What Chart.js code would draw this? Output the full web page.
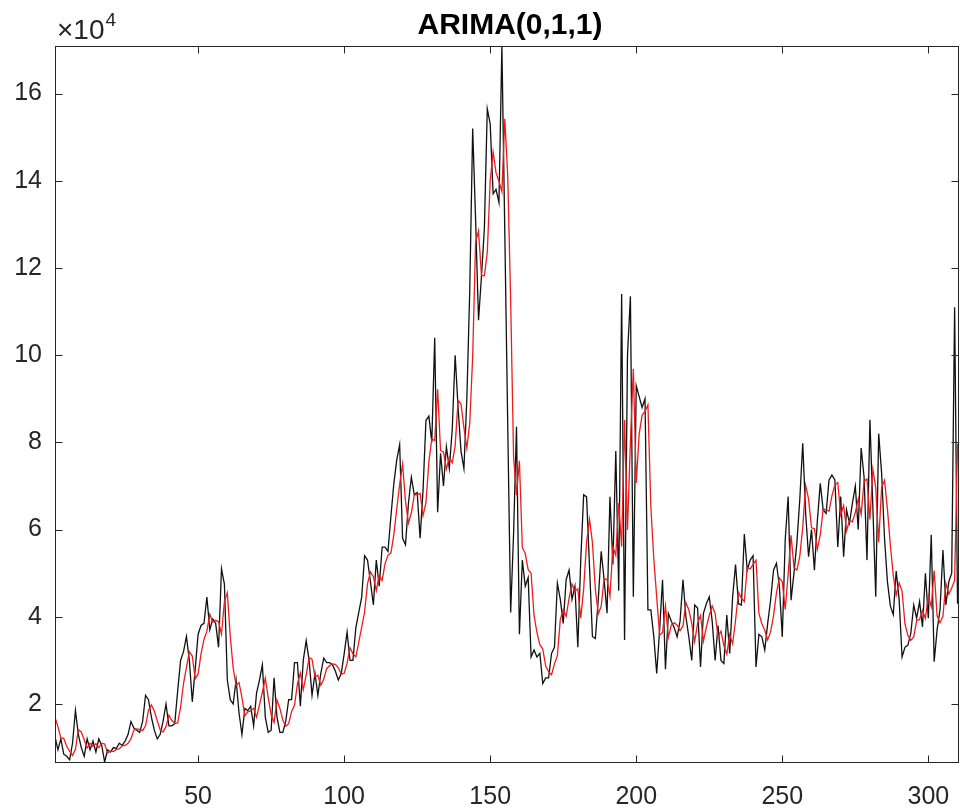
<!DOCTYPE html>
<html>
<head>
<meta charset="utf-8">
<script src="https://cdn.jsdelivr.net/npm/chart.js@4.4.1/dist/chart.umd.min.js"></script>
<style>
html,body{margin:0;padding:0;background:#ffffff;}
#wrap{width:960px;height:812px;position:relative;}
</style>
</head>
<body>
<div id="wrap"><canvas id="c" width="960" height="812"></canvas></div>
<script>
// ---- data (values in units of 10^4) ----
const titleText = 'ARIMA(0,1,1)';
const exponentBase = '\u00D710';
const exponentPower = '4';
const xTicks = [50, 100, 150, 200, 250, 300];
const xTickLabels = ['50', '100', '150', '200', '250', '300'];
const yTicks = [2, 4, 6, 8, 10, 12, 14, 16];
const yTickLabels = ['2', '4', '6', '8', '10', '12', '14', '16'];
const xRange = [1, 310.5];
const yRange = [0.67, 17.09];

const observed = [
  1.25,0.95,1.2,0.85,0.8,0.72,1.1,1.85,1.3,1.0,
  0.8,1.2,0.95,1.15,0.9,1.2,1.05,0.67,0.95,0.9,
  1.0,0.98,1.1,1.05,1.15,1.3,1.6,1.45,1.4,1.35,
  1.6,2.2,2.1,1.7,1.4,1.2,1.3,1.6,2.0,1.5,
  1.5,1.55,2.3,3.0,3.2,3.55,3.0,2.05,2.8,3.6,
  3.8,3.85,4.45,3.7,3.95,3.85,3.3,5.1,4.75,2.55,
  2.1,2.0,2.55,1.8,1.3,1.9,1.85,1.95,1.5,2.25,
  2.55,2.9,1.7,1.35,1.4,2.6,1.7,1.35,1.35,1.6,
  2.1,2.1,2.95,2.95,1.95,3.0,3.45,3.0,2.2,2.7,
  2.2,2.7,3.05,2.95,2.95,2.9,2.75,2.55,2.7,3.15,
  3.65,3.0,3.0,3.75,4.1,4.45,5.4,5.3,4.8,4.27,
  5.3,4.7,5.6,5.6,5.5,6.3,7.05,7.6,7.95,5.8,
  5.65,6.6,7.2,6.8,6.85,5.8,6.9,8.5,8.6,8.0,
  10.4,6.4,7.75,7.0,7.9,7.4,8.3,10.0,8.8,7.8,
  7.4,9.0,11.5,15.2,13.1,10.8,11.8,12.9,15.65,15.3,
  13.7,13.8,13.5,17.09,12.8,8.4,4.1,5.9,8.36,3.6,5.3,
  4.7,4.9,3.08,3.24,3.08,3.16,2.47,2.6,2.6,3.16,
  3.3,4.77,4.4,3.85,4.85,5.07,4.4,4.7,3.3,5.3,
  6.8,6.75,5.15,3.55,3.5,4.4,5.5,4.85,4.08,6.75,
  5.2,7.8,4.6,11.4,3.47,10.0,11.35,4.46,9.3,9.05,
  8.8,9.0,4.16,4.16,3.55,2.7,3.7,4.85,2.8,4.08,
  3.9,3.75,3.54,3.9,4.85,4.0,3.54,3.0,4.27,
  4.2,2.85,4.08,4.3,4.46,3.9,3.0,3.8,3.0,2.93,
  4.04,3.16,4.46,5.2,4.3,4.27,5.9,5.07,5.3,5.4,
  2.85,3.6,3.54,3.24,3.85,4.38,5.07,5.23,4.7,3.54,
  5.76,6.76,4.38,5.0,5.7,6.7,7.98,6.37,5.38,6.0,
  5.07,6.2,7.06,6.45,6.37,7.14,7.25,7.14,5.6,6.76,
  5.38,6.45,6.15,6.6,7.0,6.0,7.87,7.2,5.3,8.52,
  6.53,4.46,8.2,7.3,5.8,4.8,4.25,4.05,5.05,4.4,
  3.08,3.3,3.35,3.62,4.27,3.97,4.35,3.77,5.0,3.97,
  5.88,2.97,3.7,4.16,5.53,4.27,4.8,5.0,11.1,4.3
];

const fitted = [
  1.70,1.48,1.22,1.21,1.03,0.92,0.82,0.96,1.41,1.36,
  1.18,0.99,1.10,1.03,1.09,1.00,1.10,1.08,0.88,0.92,
  0.91,0.96,0.97,1.04,1.05,1.10,1.20,1.40,1.43,1.42,
  1.39,1.50,1.85,1.98,1.84,1.62,1.41,1.36,1.48,1.74,
  1.62,1.56,1.56,1.93,2.47,2.84,3.20,3.10,2.58,2.69,
  3.15,3.48,3.67,4.06,3.88,3.92,3.89,3.60,4.35,4.55,
  3.55,2.83,2.42,2.49,2.15,1.73,1.82,1.84,1.90,1.70,
  1.98,2.27,2.59,2.15,1.75,1.58,2.09,1.90,1.63,1.49,
  1.55,1.83,1.97,2.46,2.71,2.33,2.67,3.06,3.03,2.62,
  2.66,2.43,2.57,2.81,2.88,2.92,2.91,2.83,2.69,2.70,
  2.93,3.29,3.15,3.08,3.42,3.76,4.11,4.76,5.03,4.92,
  4.60,4.95,4.83,5.22,5.41,5.46,5.88,6.47,7.04,7.50,
  6.65,6.15,6.38,6.79,6.80,6.83,6.32,6.61,7.56,8.08,
  8.04,9.22,7.81,7.78,7.39,7.65,7.53,7.92,8.96,8.88,
  8.34,7.87,8.44,9.97,12.59,12.85,11.83,11.82,12.36,14.01,
  14.66,14.18,13.99,13.75,15.42,14.11,11.26,7.68,6.79,7.58,
  5.59,5.45,5.08,5.00,4.04,3.64,3.36,3.26,2.87,2.74,2.67,
  2.92,3.11,3.94,4.17,4.01,4.43,4.75,4.58,4.64,3.97,
  4.64,5.72,6.24,5.70,4.63,4.07,4.24,4.87,4.86,4.47,
  5.61,5.41,6.61,5.61,8.51,5.99,8.00,9.68,7.07,8.19,
  8.62,8.71,8.86,6.51,5.34,4.45,3.58,3.64,4.25,3.53,
  3.81,3.86,3.81,3.68,3.79,4.32,4.16,3.85,3.43,
  3.85,4.03,3.44,3.76,4.03,4.25,4.08,3.54,3.67,3.34,
  3.14,3.59,3.38,3.92,4.56,4.43,4.35,5.13,5.10,5.20,
  5.30,4.08,3.84,3.69,3.47,3.66,4.02,4.55,4.89,4.80,
  4.17,4.97,5.87,5.13,5.07,5.39,6.05,7.02,6.70,6.04,
  6.02,5.55,5.88,6.47,6.46,6.42,6.78,7.02,7.08,6.34,
  6.55,5.97,6.21,6.18,6.39,6.70,6.35,7.11,7.16,6.23,
  7.38,6.96,5.71,6.96,7.13,6.47,5.64,4.95,4.50,4.78,
  4.59,3.84,3.57,3.46,3.54,3.91,3.94,4.15,3.96,4.48,
  4.23,5.06,4.02,3.86,4.01,4.77,4.52,4.66,4.83,7.97
];

const timeIndex = observed.map((_, i) => i + 1);

// ---- styling ----
const AXIS_COLOR = '#262626';
const FONT_FAMILY = '"Liberation Sans", Arial, Helvetica, sans-serif';
const TICK_LEN = 7;

const matlabAxesPlugin = {
  id: 'matlabAxes',
  afterDatasetsDraw(chart) {
    const { ctx, chartArea, scales } = chart;
    const { left, right, top, bottom } = chartArea;
    ctx.save();
    ctx.strokeStyle = AXIS_COLOR;
    ctx.lineWidth = 1;
    ctx.strokeRect(left + 0.5, top + 0.5, right - left - 1, bottom - top);
    ctx.beginPath();
    xTicks.forEach(v => {
      const px = Math.round(scales.x.getPixelForValue(v)) + 0.5;
      ctx.moveTo(px, bottom + 0.5); ctx.lineTo(px, bottom + 0.5 - TICK_LEN);
      ctx.moveTo(px, top + 0.5); ctx.lineTo(px, top + 0.5 + TICK_LEN);
    });
    yTicks.forEach(v => {
      const py = Math.round(scales.y.getPixelForValue(v)) + 0.5;
      ctx.moveTo(left + 0.5, py); ctx.lineTo(left + 0.5 + TICK_LEN, py);
      ctx.moveTo(right - 0.5, py); ctx.lineTo(right - 0.5 - TICK_LEN, py);
    });
    ctx.stroke();

    // title
    ctx.fillStyle = '#000000';
    ctx.font = 'bold 30px ' + FONT_FAMILY;
    ctx.textAlign = 'center';
    ctx.textBaseline = 'alphabetic';
    ctx.fillText(titleText, (left + right) / 2 + 3, 34);

    // exponent label
    ctx.fillStyle = AXIS_COLOR;
    ctx.textAlign = 'left';
    ctx.font = '28px ' + FONT_FAMILY;
    ctx.fillText(exponentBase, left + 2, 39);
    const w = ctx.measureText(exponentBase).width;
    ctx.font = '19px ' + FONT_FAMILY;
    ctx.fillText(exponentPower, left + 2 + w + 1, 26);
    ctx.restore();
  }
};

new Chart(document.getElementById('c'), {
  type: 'line',
  data: {
    datasets: [
      {
        label: 'observed',
        data: timeIndex.map((t, i) => ({ x: t, y: observed[i] })),
        borderColor: '#111111',
        borderWidth: 1.3,
        pointRadius: 0,
        tension: 0,
        fill: false,
        order: 2
      },
      {
        label: 'fitted',
        data: timeIndex.map((t, i) => ({ x: t, y: fitted[i] })),
        borderColor: '#ee1c1c',
        borderWidth: 1.3,
        pointRadius: 0,
        tension: 0,
        fill: false,
        order: 1
      }
    ]
  },
  options: {
    responsive: false,
    animation: false,
    devicePixelRatio: 1,
    layout: { padding: { top: 46, right: 1, left: 0, bottom: 0 } },
    plugins: {
      legend: { display: false },
      title: { display: false },
      tooltip: { enabled: false }
    },
    scales: {
      x: {
        type: 'linear',
        min: xRange[0],
        max: xRange[1],
        grid: { display: false, drawTicks: false },
        border: { display: false },
        afterBuildTicks: ax => { ax.ticks = xTicks.map(v => ({ value: v })); },
        afterFit: ax => { ax.height = 50; ax.paddingLeft = 0; ax.paddingRight = 0; },
        ticks: {
          font: { family: FONT_FAMILY, size: 25 },
          color: AXIS_COLOR,
          padding: 20,
          maxRotation: 0,
          autoSkip: false,
          callback: (v, i) => xTickLabels[i]
        }
      },
      y: {
        type: 'linear',
        min: yRange[0],
        max: yRange[1],
        grid: { display: false, drawTicks: false },
        border: { display: false },
        afterBuildTicks: ax => { ax.ticks = yTicks.map(v => ({ value: v })); },
        afterFit: ax => { ax.width = 55; ax.paddingTop = 0; ax.paddingBottom = 0; },
        ticks: {
          font: { family: FONT_FAMILY, size: 25 },
          color: AXIS_COLOR,
          padding: 13,
          autoSkip: false,
          callback: (v, i) => yTickLabels[i]
        }
      }
    }
  },
  plugins: [matlabAxesPlugin]
});
</script>
</body>
</html>
